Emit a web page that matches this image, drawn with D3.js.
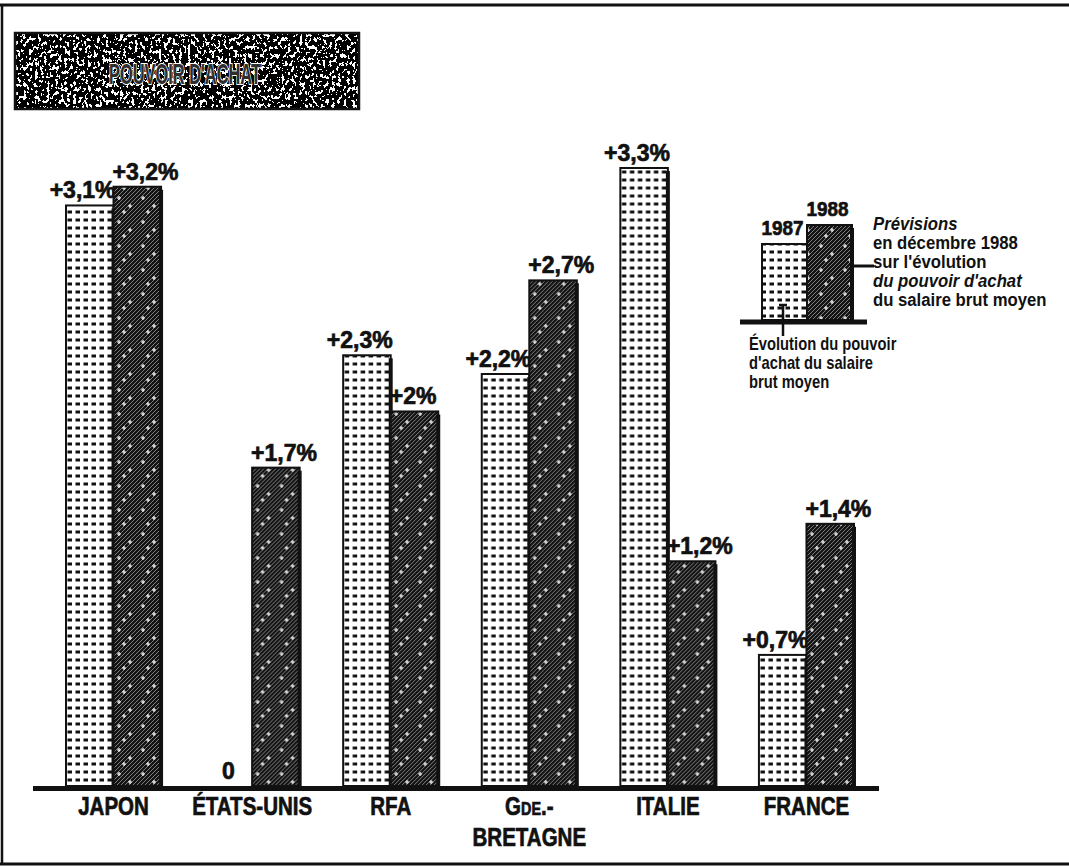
<!DOCTYPE html>
<html>
<head>
<meta charset="utf-8">
<script src="https://cdn.jsdelivr.net/npm/d3@7"></script>
<style>
body { margin: 0; background: #fff; }
text { font-family: "Liberation Sans", Arial, sans-serif; font-weight: bold; fill: #111; }
.heavy { stroke: #111; stroke-width: 0.7px; }
</style>
</head>
<body>
<script>
// data
var countries = ["JAPON", "ÉTATS-UNIS", "RFA", "GDE.-BRETAGNE", "ITALIE", "FRANCE"];
var countryLines = [["JAPON"], ["ÉTATS-UNIS"], ["RFA"], ["Gde.-", "BRETAGNE"], ["ITALIE"], ["FRANCE"]];
var years = ["1987", "1988"];
var values1987 = [3.1, 0, 2.3, 2.2, 3.3, 0.7];
var values1988 = [3.2, 1.7, 2.0, 2.7, 1.2, 1.4];
var labels1987 = ["+3,1%", "0", "+2,3%", "+2,2%", "+3,3%", "+0,7%"];
var labels1988 = ["+3,2%", "+1,7%", "+2%", "+2,7%", "+1,2%", "+1,4%"];
var title = "POUVOIR D'ACHAT";
var noteRight = ["Prévisions", "en décembre 1988", "sur l'évolution", "du pouvoir d'achat", "du salaire brut moyen"];
var noteLeft = ["Évolution du pouvoir", "d'achat du salaire", "brut moyen"];

var width = 1069, height = 867;

var svg = d3.select("body").append("svg")
    .attr("width", width)
    .attr("height", height);

var defs = svg.append("defs");

// squeeze text horizontally around its x anchor (no narrow font installed)
function condense(sel, sx) {
  sel.attr("transform", function() {
    var x = +this.getAttribute("x") || 0;
    return "translate(" + x * (1 - sx) + ",0) scale(" + sx + ",1)";
  });
}

// 1987 : white with little black dashes
var dots = defs.append("pattern").attr("id", "dots")
    .attr("patternUnits", "userSpaceOnUse").attr("width", 8).attr("height", 8);
dots.append("rect").attr("width", 8).attr("height", 8).attr("fill", "#fff");
dots.append("rect").attr("x", 1.5).attr("y", 2.5).attr("width", 4.5).attr("height", 3).attr("fill", "#111");

// 1988 : dark diagonal hatch with white sparkles
var hatch = defs.append("pattern").attr("id", "hatch")
    .attr("patternUnits", "userSpaceOnUse").attr("width", 24).attr("height", 24);
hatch.append("rect").attr("width", 24).attr("height", 24).attr("fill", "#141414");
for (var i = -24; i < 48; i += 4) {
  hatch.append("line")
    .attr("x1", i).attr("y1", 24).attr("x2", i + 24).attr("y2", 0)
    .attr("stroke", "#999").attr("stroke-width", 0.8);
}
[[5, 6], [16, 14], [10, 20]].forEach(function(p) {
  hatch.append("path")
    .attr("d", "M" + (p[0] - 2) + "," + p[1] + "h4M" + p[0] + "," + (p[1] - 2) + "v4")
    .attr("stroke", "#fff").attr("stroke-width", 1.2);
});

// grain for the title box
var grain = defs.append("filter").attr("id", "grain")
    .attr("x", 0).attr("y", 0).attr("width", "100%").attr("height", "100%");
grain.append("feTurbulence").attr("type", "fractalNoise")
    .attr("baseFrequency", "0.34 0.24").attr("numOctaves", 3).attr("seed", 11);
grain.append("feColorMatrix").attr("type", "matrix")
    .attr("values", "0 0 0 0 0  0 0 0 0 0  0 0 0 0 0  1.8 0 0 0 -0.25");
grain.append("feComponentTransfer").append("feFuncA")
    .attr("type", "discrete").attr("tableValues", "0 1");

// frame
svg.append("line").attr("x1", 0).attr("x2", width).attr("y1", 5).attr("y2", 5)
    .attr("stroke", "#111").attr("stroke-width", 3);
svg.append("line").attr("x1", 0).attr("x2", width).attr("y1", 864).attr("y2", 864)
    .attr("stroke", "#111").attr("stroke-width", 3);
svg.append("line").attr("x1", 2).attr("x2", 2).attr("y1", 5).attr("y2", 864)
    .attr("stroke", "#111").attr("stroke-width", 2.5);

// title box
var tb = svg.append("g");
tb.append("rect").attr("x", 15).attr("y", 33).attr("width", 344).attr("height", 76).attr("fill", "#fff");
tb.append("rect").attr("x", 15).attr("y", 33).attr("width", 344).attr("height", 76)
    .attr("fill", "#000").attr("filter", "url(#grain)");
tb.append("rect").attr("x", 15).attr("y", 33).attr("width", 344).attr("height", 76)
    .attr("fill", "none").attr("stroke", "#111").attr("stroke-width", 2.5);
tb.append("text")
    .attr("x", 185).attr("y", 84)
    .attr("text-anchor", "middle")
    .attr("textLength", 152).attr("lengthAdjust", "spacingAndGlyphs")
    .style("font-size", "30px")
    .style("fill", "#2e2e2e")
    .style("stroke", "#fff").style("stroke-width", "2px")
    .style("paint-order", "stroke")
    .text(title);

// scales
var x0 = d3.scaleBand().domain(countries).range([66, 854]).paddingInner(0.314);
var x1 = d3.scaleBand().domain(years).range([0, x0.bandwidth()]);
var y = d3.scaleLinear().domain([0, 3.3]).range([786, 168]);

var rows = countries.map(function(c, i) {
  return {
    country: c,
    lines: countryLines[i],
    bars: [
      { year: "1987", value: values1987[i], label: labels1987[i] },
      { year: "1988", value: values1988[i], label: labels1988[i] }
    ]
  };
});

var groups = svg.selectAll("g.country")
  .data(rows)
  .enter().append("g")
    .attr("class", "country")
    .attr("transform", function(d) { return "translate(" + x0(d.country) + ",0)"; });

var bars = groups.selectAll("g.bar")
  .data(function(d) { return d.bars; })
  .enter().append("g").attr("class", "bar");

bars.append("rect")
    .attr("x", function(d) { return x1(d.year); })
    .attr("y", function(d) { return y(d.value); })
    .attr("width", x1.bandwidth())
    .attr("height", function(d) { return y(0) - y(d.value); })
    .attr("fill", function(d) { return d.year === "1987" ? "url(#dots)" : "url(#hatch)"; })
    .attr("stroke", "#111")
    .attr("stroke-width", 2);

// dark shadow on the right edge
bars.filter(function(d) { return d.value > 0; })
  .append("line")
    .attr("x1", function(d) { return x1(d.year) + x1.bandwidth(); })
    .attr("x2", function(d) { return x1(d.year) + x1.bandwidth(); })
    .attr("y1", function(d) { return y(d.value) + 3; })
    .attr("y2", y(0))
    .attr("stroke", "#111")
    .attr("stroke-width", 4);

bars.append("text")
    .attr("class", "heavy")
    .attr("x", function(d) {
      if (d.value === 0) return x1(d.year) + x1.bandwidth() / 2;
      return d.year === "1987" ? x1(d.year) + x1.bandwidth() + 2 : x1(d.year) - 1;
    })
    .attr("y", function(d) { return y(d.value) - 7; })
    .attr("text-anchor", function(d) {
      if (d.value === 0) return "middle";
      return d.year === "1987" ? "end" : "start";
    })
    .style("font-size", "23px")
    .text(function(d) { return d.label; });

// baseline
svg.append("line")
    .attr("x1", 33).attr("x2", 879)
    .attr("y1", y(0) + 2.5).attr("y2", y(0) + 2.5)
    .attr("stroke", "#111").attr("stroke-width", 5);

// category names
var names = groups.append("text")
    .attr("class", "heavy")
    .attr("x", x0.bandwidth() / 2)
    .attr("text-anchor", "middle")
    .style("font-size", "25px")
    .style("font-variant", "small-caps");
names.selectAll("tspan")
  .data(function(d) { return d.lines; })
  .enter().append("tspan")
    .attr("x", x0.bandwidth() / 2)
    .attr("y", function(d, i) { return 815 + i * 31; })
    .text(function(d) { return d; });
condense(names, 0.82);

// legend
var lg = svg.append("g");
var lx = d3.scaleBand().domain(years).range([762, 852]);
var lh = { "1987": 76, "1988": 95 };
lg.selectAll("rect.leg")
  .data(years)
  .enter().append("rect")
    .attr("class", "leg")
    .attr("x", function(d) { return lx(d); })
    .attr("y", function(d) { return 320 - lh[d]; })
    .attr("width", lx.bandwidth())
    .attr("height", function(d) { return lh[d]; })
    .attr("fill", function(d) { return d === "1987" ? "url(#dots)" : "url(#hatch)"; })
    .attr("stroke", "#111").attr("stroke-width", 2);
lg.append("line")
    .attr("x1", 852).attr("x2", 852).attr("y1", 228).attr("y2", 320)
    .attr("stroke", "#111").attr("stroke-width", 4);
var yl = lg.selectAll("text.ly")
  .data(years)
  .enter().append("text")
    .attr("class", "ly heavy")
    .attr("x", function(d) { return lx(d) + lx.bandwidth() / 2 - 2; })
    .attr("y", function(d) { return 320 - lh[d] - 9; })
    .attr("text-anchor", "middle")
    .style("font-size", "21px")
    .text(function(d) { return d; });
condense(yl, 0.9);
lg.append("line")
    .attr("x1", 740).attr("x2", 867).attr("y1", 322).attr("y2", 322)
    .attr("stroke", "#111").attr("stroke-width", 5);
// pointers
lg.append("path").attr("d", "M779,305h8M783,305V336")
    .attr("stroke", "#111").attr("stroke-width", 2.5).attr("fill", "none");
lg.append("line").attr("x1", 854).attr("x2", 874).attr("y1", 266).attr("y2", 266)
    .attr("stroke", "#111").attr("stroke-width", 3);

var nr = lg.append("text")
    .attr("x", 873)
    .style("font-size", "19px");
nr.selectAll("tspan")
  .data(noteRight)
  .enter().append("tspan")
    .attr("x", 873)
    .attr("y", function(d, i) { return 230 + i * 19; })
    .style("font-style", function(d, i) { return (i === 0 || i === 3) ? "italic" : "normal"; })
    .text(function(d) { return d; });
condense(nr, 0.88);

var nl = lg.append("text")
    .attr("x", 749)
    .style("font-size", "18px");
nl.selectAll("tspan")
  .data(noteLeft)
  .enter().append("tspan")
    .attr("x", 749)
    .attr("y", function(d, i) { return 350 + i * 19; })
    .text(function(d) { return d; });
condense(nl, 0.82);
</script>
</body>
</html>
